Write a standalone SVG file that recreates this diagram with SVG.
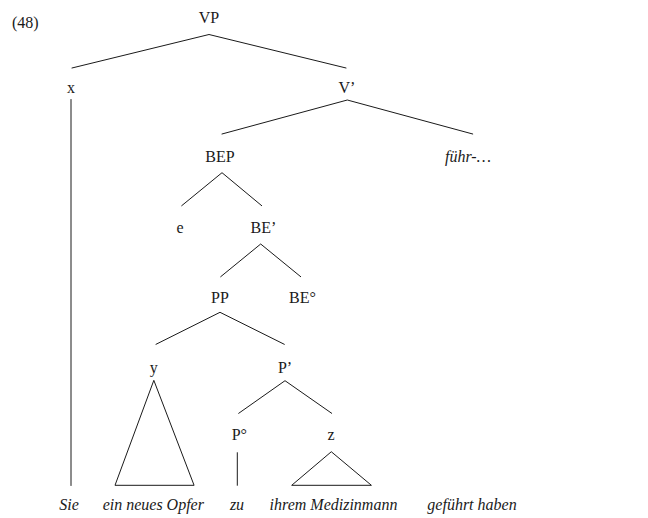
<svg xmlns="http://www.w3.org/2000/svg" width="648" height="518" viewBox="0 0 648 518">
  <style>
    text { font-family: "Liberation Serif", "DejaVu Serif", serif; font-size: 16px; fill: #1a1a1a; text-anchor: middle; }
    .it { font-style: italic; }
    .edge { stroke: #1a1a1a; stroke-width: 1; fill: none; stroke-linecap: round; stroke-linejoin: round; }
  </style>
  <rect width="648" height="518" fill="#ffffff"/>

  <text x="12" y="28" style="text-anchor:start">(48)</text>

  <!-- tree branches -->
  <g id="connectors">
    <polyline class="edge" points="72,68 209,34.5 346,68"/>
    <line class="edge" x1="71" y1="99.5" x2="71" y2="485.5"/>
    <polyline class="edge" points="222,134 347.3,100 472.7,134"/>
    <polyline class="edge" points="181.7,205.7 222,172.7 261.7,205.7"/>
    <polyline class="edge" points="220.7,276.7 260.7,244 300.7,276.7"/>
    <polyline class="edge" points="156,344.3 220,312.3 284.3,344.3"/>
    <polygon class="edge" points="153.7,380.7 115,485.3 193.7,485.3"/>
    <polyline class="edge" points="238.7,413.3 285,380.7 331.7,413.3"/>
    <line class="edge" x1="237.3" y1="452.7" x2="237.3" y2="485.3"/>
    <polygon class="edge" points="331,452 291.7,485.3 371,485.3"/>
  </g>

  <g id="node-VP"><text x="209" y="23">VP</text></g>
  <g id="node-x"><text x="71" y="93">x</text></g>
  <g id="node-V1"><text x="347" y="93">V’</text></g>
  <g id="node-BEP"><text x="220" y="162">BEP</text></g>
  <g id="node-fuehr"><text class="it" x="445" y="162" style="text-anchor:start">führ-…</text></g>
  <g id="node-e"><text x="180" y="233">e</text></g>
  <g id="node-BE1"><text x="263.5" y="233">BE’</text></g>
  <g id="node-PP"><text x="220" y="303">PP</text></g>
  <g id="node-BE0"><text x="302.5" y="303">BE°</text></g>
  <g id="node-y"><text x="153.7" y="373">y</text></g>
  <g id="node-P1"><text x="285" y="373">P’</text></g>
  <g id="node-P0"><text x="239.3" y="440">P°</text></g>
  <g id="node-z"><text x="331" y="440">z</text></g>

  <g id="node-Sie"><text class="it" x="69" y="510">Sie</text></g>
  <g id="node-opfer"><text class="it" x="153.3" y="510">ein neues Opfer</text></g>
  <g id="node-zu"><text class="it" x="237" y="510">zu</text></g>
  <g id="node-medizinmann"><text class="it" x="333.5" y="510">ihrem Medizinmann</text></g>
  <g id="node-gefuehrt"><text class="it" x="472" y="510">geführt haben</text></g>
</svg>
